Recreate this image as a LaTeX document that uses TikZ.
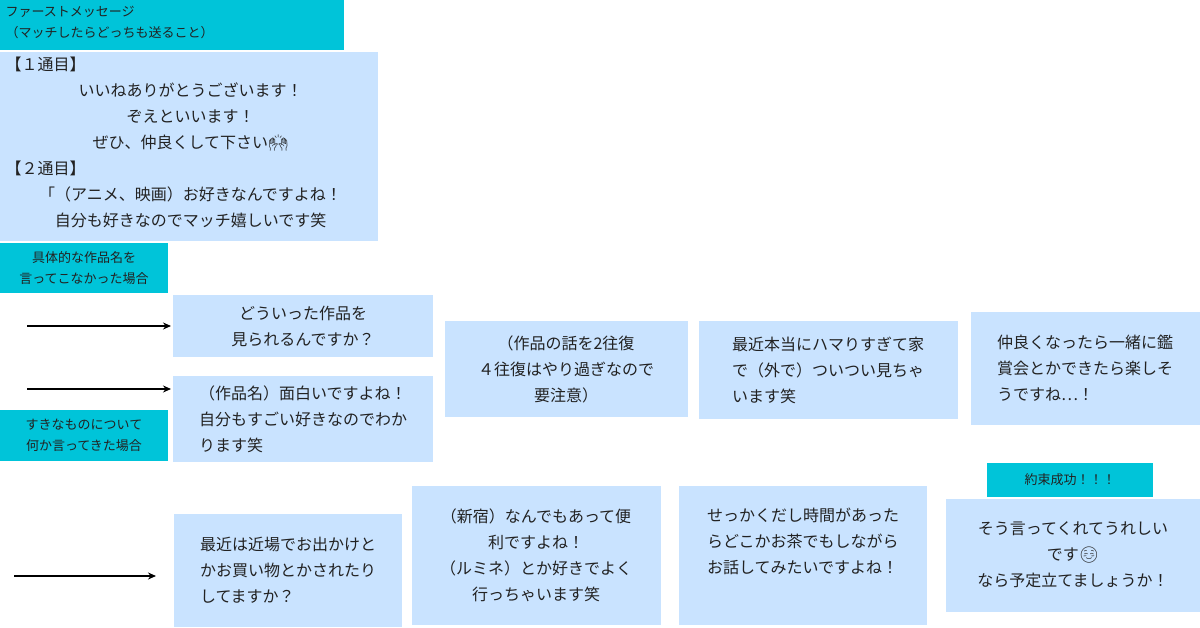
\documentclass[tikz,border=0pt]{standalone}
\usepackage{fontspec}
\usetikzlibrary{arrows.meta}
\setmainfont{Noto Sans CJK JP}
\newfontfamily\emo{Noto Emoji}
\definecolor{teal}{HTML}{00C4D9}
\definecolor{lb}{HTML}{C9E3FF}
\definecolor{tx}{HTML}{222222}
\begin{document}
\begin{tikzpicture}[x=1pt,y=-1pt,
  bx/.style={fill=lb,draw=none,text=tx,font=\fontsize{16}{26}\selectfont},
  tl/.style={fill=teal,draw=none,text=tx,font=\fontsize{13}{21}\selectfont},
  arr/.style={-{Stealth[length=8pt,width=7pt]},line width=2pt,black}]
\useasboundingbox[fill=white] (0,0) rectangle (1200,628);
% header
\fill[teal] (0,0) rectangle (344,50);
\node[tl,fill=none,anchor=north west,align=left] (h) at (2,3) {ファーストメッセージ\\（マッチしたらどっちも送ること）};
\fill[lb] (0,52) rectangle (378,241);
\node[bx,fill=none,anchor=north west,align=left,text width=370pt] (b1) at (2,53) {【１通目】\\
\hfill いいねありがとうございます！\hfill\null\\
\hfill ぞえといいます！\hfill\null\\
\hfill ぜひ、仲良くして下さい{\emo 🙌}\hfill\null\\
【２通目】\\
\hfill 「（アニメ、映画）お好きなんですよね！\hfill\null\\
\hfill 自分も好きなのでマッチ嬉しいです笑\hfill\null};
\fill[teal] (0,243) rectangle (168,293);
\node[tl,fill=none,align=center] (c1) at (84,268) {具体的な作品名を\\言ってこなかった場合};
\fill[teal] (0,410) rectangle (168,461);
\node[tl,fill=none,align=center] (c2) at (84,435.5) {すきなものについて\\何か言ってきた場合};
\fill[teal] (987,463) rectangle (1153,497);
\node[tl,fill=none] (c3) at (1070,480) {約束成功！！！};
% boxes
\fill[lb] (173,295) rectangle (433,357);
\node[bx,fill=none,align=center] (m1) at (303,326) {どういった作品を\\見られるんですか？};
\fill[lb] (173,376) rectangle (433,462);
\node[bx,fill=none,align=left] (m2) at (303,419) {（作品名）面白いですよね！\\自分もすごい好きなのでわか\\ります笑};
\fill[lb] (445,321) rectangle (688,417);
\node[bx,fill=none,align=center] (m3) at (566,369) {（作品の話を2往復\\４往復はやり過ぎなので\\要注意）};
\fill[lb] (699,321) rectangle (958,419);
\node[bx,fill=none,align=left] (m4) at (828,370) {最近本当にハマりすぎて家\\で（外で）ついつい見ちゃ\\います笑};
\fill[lb] (971,312) rectangle (1200,425);
\node[bx,fill=none,align=left] (m5) at (1085,368) {仲良くなったら一緒に鑑\\賞会とかできたら楽しそ\\うですね…！};
\fill[lb] (946,499) rectangle (1200,612);
\node[bx,fill=none,align=center] (m6) at (1073,555) {そう言ってくれてうれしい\\です{\emo ☺}\\なら予定立てましょうか！};
\fill[lb] (174,514) rectangle (402,627);
\node[bx,fill=none,align=left] (m7) at (288,570) {最近は近場でお出かけと\\かお買い物とかされたり\\してますか？};
\fill[lb] (412,486) rectangle (661,625);
\node[bx,fill=none,align=center] (m8) at (536,555) {（新宿）なんでもあって便\\利ですよね！\\（ルミネ）とか好きでよく\\行っちゃいます笑};
\fill[lb] (679,486) rectangle (927,625);
\node[bx,fill=none,align=left] (m9) at (803,541) {せっかくだし時間があった\\らどこかお茶でもしながら\\お話してみたいですよね！};
% arrows
\coordinate (a1) at (27,326); \coordinate (a1e) at (171,326);
\coordinate (a2) at (27,389); \coordinate (a2e) at (171,389);
\coordinate (a3) at (14,576); \coordinate (a3e) at (156,576);
\draw[arr] (a1) -- (a1e);
\draw[arr] (a2) -- (a2e);
\draw[arr] (a3) -- (a3e);
\end{tikzpicture}
\end{document}
